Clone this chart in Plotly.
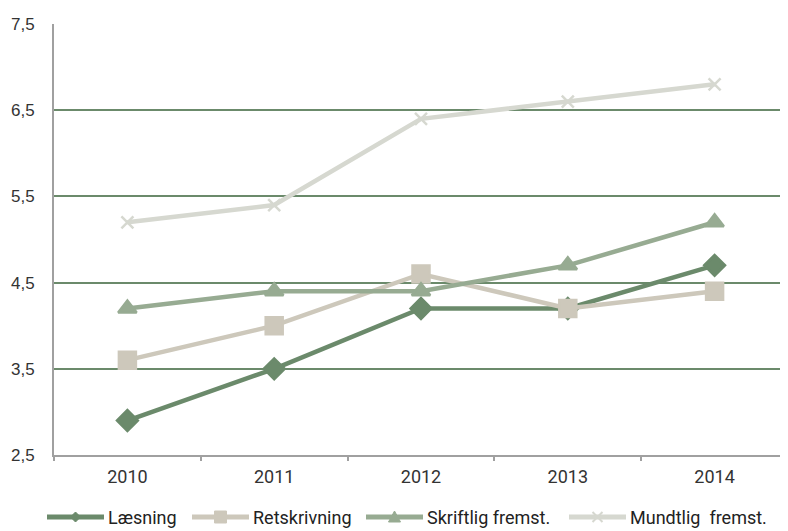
import plotly.graph_objects as go

years = ["2010", "2011", "2012", "2013", "2014"]
laesning = [2.9, 3.5, 4.2, 4.2, 4.7]
retskrivning = [3.6, 4.0, 4.6, 4.2, 4.4]
skriftlig = [4.2, 4.4, 4.4, 4.7, 5.2]
mundtlig = [5.2, 5.4, 6.4, 6.6, 6.8]
names = ["Læsning", "Retskrivning", "Skriftlig fremst.", "Mundtlig  fremst."]
yticks = [2.5, 3.5, 4.5, 5.5, 6.5, 7.5]
yticklabels = ["2,5", "3,5", "4,5", "5,5", "6,5", "7,5"]

colors = ["#6b8a6b", "#cdc8bb", "#97ab92", "#d6d8d0"]
symbols = ["diamond", "square", "triangle-up", "x-thin"]
msizes = [16, 17, 16, 12]

# page body has an 8px margin; figure fills the rest
W, H = 780, 523
ML, MR, MT, MB = 46, 0, 16, 76
PW = W - ML - MR
PH = H - MT - MB

fig = go.Figure()
for vals, name, color, sym, size in zip([laesning, retskrivning, skriftlig, mundtlig],
                                        names, colors, symbols, msizes):
    fig.add_trace(go.Scatter(
        x=years, y=vals, name=name, mode="lines+markers", showlegend=False,
        line=dict(color=color, width=4.5),
        marker=dict(symbol=sym, size=size, color=color,
                    line=dict(color=color, width=2.5)),
    ))

# custom legend (long line keys with small markers, as in the reference)
key_start_px = [39, 184, 358, 561]   # figure pixels
key_len = 57
leg_y = -(509 - (MT + PH)) / PH
key_paths = {
    "diamond": "M-5,0 L0,-5 L5,0 L0,5 Z",
    "square": "M-6,-6 L6,-6 L6,6 L-6,6 Z",
    "triangle-up": "M-6,-5 L0,6 L6,-5 Z",
    "x-thin": "M-5,-5 L5,5 M-5,5 L5,-5",
}
shapes = []
annotations = []
for name, color, sym, sx in zip(names, colors, symbols, key_start_px):
    x0 = (sx - ML) / PW
    x1 = (sx + key_len - ML) / PW
    xm = (sx + key_len / 2 - ML) / PW
    shapes.append(dict(type="line", xref="paper", yref="paper", x0=x0, x1=x1,
                       y0=leg_y, y1=leg_y, line=dict(color=color, width=5)))
    filled = sym != "x-thin"
    shapes.append(dict(type="path", xref="paper", yref="paper",
                       xsizemode="pixel", ysizemode="pixel", xanchor=xm, yanchor=leg_y,
                       path=key_paths[sym],
                       fillcolor=color if filled else "rgba(0,0,0,0)",
                       line=dict(color=color, width=2 if not filled else 1)))
    annotations.append(dict(xref="paper", yref="paper", x=x1 + 2 / PW, y=leg_y,
                            xanchor="left", yanchor="middle", showarrow=False,
                            text=name,
                            font=dict(family="Roboto, Liberation Sans, sans-serif",
                                      size=18, color="#222222")))

fig.update_layout(
    width=W, height=H,
    margin=dict(l=ML, r=MR, t=MT, b=MB, autoexpand=False),
    plot_bgcolor="white", paper_bgcolor="white",
    font=dict(family="Liberation Sans, Arial, sans-serif", size=17, color="#333333"),
    shapes=shapes, annotations=annotations,
)
fig.update_xaxes(range=[-0.5, 4.5], showgrid=False, showline=True, linecolor="#a0a0a0",
                 linewidth=2, ticks="outside", tickson="boundaries", ticklen=4,
                 tickcolor="#a0a0a0", tickwidth=1.5, automargin=False,
                 ticklabelstandoff=4,
                 tickfont=dict(size=18, family="Roboto, Liberation Sans, sans-serif"))
fig.update_yaxes(range=[2.5, 7.5], tickvals=yticks, ticktext=yticklabels,
                 showgrid=True, gridcolor="#6b8a6b", gridwidth=1.5,
                 showline=True, linecolor="#a0a0a0", linewidth=2, automargin=False,
                 zeroline=False, ticks="", ticklabelstandoff=14, tickfont=dict(size=17))

fig.write_html("out.html")
